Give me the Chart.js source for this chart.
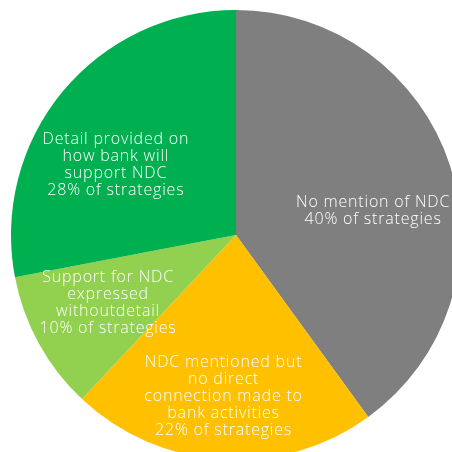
<!DOCTYPE html>
<html>
<head>
<meta charset="utf-8">
<script src="https://cdn.jsdelivr.net/npm/chart.js@4"></script>
<style>
    html, body {
        margin: 0;
        width: 452px;
        height: 452px;
        overflow: hidden;
        background: #ffffff;
    }
    #chartNdc {
        position: absolute;
        left: 11px;
        top: 10px;
    }
</style>
</head>
<body>
<canvas id="chartNdc" width="450" height="450"></canvas>
<script>
// share of bank strategies by how they treat the NDC, clockwise from 12 o'clock
const categories = [
    'No mention of NDC',
    'NDC mentioned but no direct connection made to bank activities',
    'Support for NDC expressed withoutdetail',
    'Detail provided on how bank will support NDC'
];
const shares = [40, 22, 10, 28];
// how each category name is broken over lines inside its slice
const labelLines = [
    ['No mention of NDC'],
    ['NDC mentioned but', 'no direct', 'connection made to', 'bank activities'],
    ['Support for NDC', 'expressed', 'withoutdetail'],
    ['Detail provided on', 'how bank will', 'support NDC']
];
const sliceColors = ['#7f7f7f', '#ffc000', '#92d050', '#00b050'];

// writes the text block of every slice, placed from the arc's own geometry
const sliceLabels = {
    id: 'sliceLabels',
    afterDatasetsDraw(chart, args, options) {
        const ctx = chart.ctx;
        const meta = chart.getDatasetMeta(0);
        ctx.save();
        ctx.font = options.font;
        ctx.fillStyle = options.color;
        ctx.textAlign = 'center';
        ctx.textBaseline = 'middle';
        ctx.letterSpacing = options.letterSpacing;
        meta.data.forEach((arc, i) => {
            const { x, y, startAngle, endAngle, outerRadius } =
                arc.getProps(['x', 'y', 'startAngle', 'endAngle', 'outerRadius'], true);
            const place = options.placement[i];
            const mid = (startAngle + endAngle) / 2 + place.turn * Math.PI / 180;
            const r = outerRadius * place.radius;
            const cx = x + Math.cos(mid) * r;
            const cy = y + Math.sin(mid) * r;
            const lines = labelLines[i].concat(`${shares[i]}% of strategies`);
            const top = cy - (lines.length - 1) * options.lineHeight / 2;
            lines.forEach((line, j) => {
                ctx.fillText(line, cx, top + j * options.lineHeight);
            });
        });
        ctx.restore();
    }
};

new Chart(document.getElementById('chartNdc'), {
    type: 'pie',
    data: {
        labels: categories,
        datasets: [{
            data: shares,
            backgroundColor: sliceColors,
            borderWidth: 0
        }]
    },
    options: {
        responsive: false,
        animation: false,
        layout: { padding: 0 },
        plugins: {
            legend: { display: false },
            tooltip: { enabled: false },
            sliceLabels: {
                font: '300 16px "Open Sans"',
                color: '#ffffff',
                letterSpacing: '0.8px',
                lineHeight: 17,
                placement: [
                    { radius: 0.619, turn: 7.9 },
                    { radius: 0.72, turn: 0.8 },
                    { radius: 0.644, turn: 0.8 },
                    { radius: 0.619, turn: -9.2 }
                ]
            }
        }
    },
    plugins: [sliceLabels]
});
</script>
</body>
</html>
